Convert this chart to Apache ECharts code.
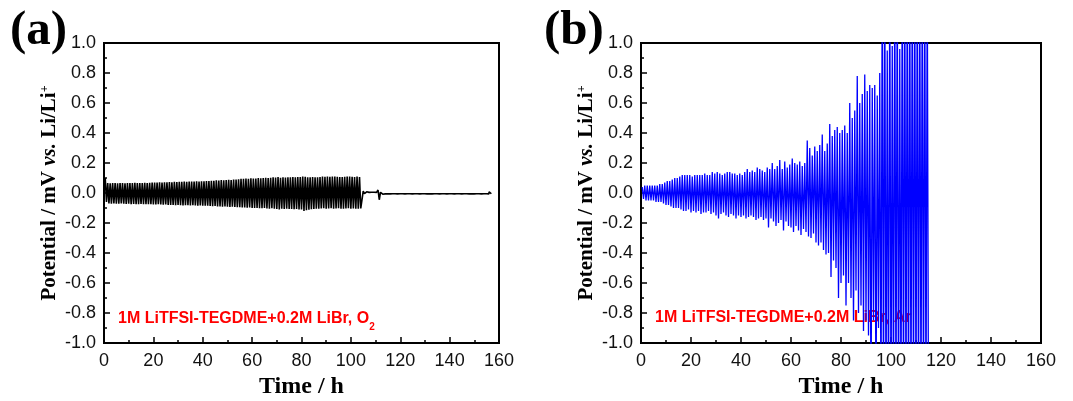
<!DOCTYPE html>
<html>
<head>
<meta charset="utf-8">
<script src="https://cdn.jsdelivr.net/npm/echarts@6/dist/echarts.min.js"></script>
<style>html,body{margin:0;padding:0;background:#fff}#c{width:1073px;height:401px}</style>
</head>
<body>
<div id="c"></div>
<script>
// ---- data, potential in mV, one value per 1 h cycle ----
var cyclePeriod = 1;        // h per charge/discharge cycle (estimated)
var leftStart = 0.5;        // h
var leftUp = [0.10,
  0.066,0.065,0.067,0.066,0.065,0.066,0.067,0.065,0.066,0.067,0.066,0.068,0.067,0.066,0.067,0.068,0.067,0.068,0.069,
  0.069,0.070,0.071,0.069,0.072,0.071,0.073,0.072,0.074,0.073,0.075,0.074,0.076,0.075,0.076,0.077,0.076,0.078,0.077,0.078,
  0.078,0.080,0.079,0.082,0.081,0.084,0.083,0.086,0.085,0.087,0.088,0.087,0.089,0.090,0.091,
  0.094,0.095,0.097,0.095,0.098,0.097,0.096,0.099,0.098,0.100,0.101,0.099,0.102,0.104,0.103,0.106,0.102,0.104,0.103,0.105,0.104,0.106,0.105,0.107,0.106,
  0.110,0.108,0.105,0.104,0.106,0.105,0.104,0.107,0.110,0.108,0.109,0.108,0.110,0.109,0.108,0.107,0.106,0.108,0.109,0.110,0.108,0.107,0.109,0.106];
var leftLow = [-0.06,
  -0.070,-0.071,-0.070,-0.072,-0.071,-0.070,-0.072,-0.073,-0.072,-0.074,-0.073,-0.075,-0.074,-0.073,-0.074,-0.075,-0.074,-0.075,-0.076,
  -0.076,-0.075,-0.077,-0.078,-0.077,-0.079,-0.080,-0.079,-0.081,-0.080,-0.082,-0.083,-0.082,-0.081,-0.083,-0.082,-0.083,-0.084,-0.083,-0.084,
  -0.084,-0.085,-0.086,-0.088,-0.087,-0.089,-0.090,-0.091,-0.090,-0.092,-0.093,-0.092,-0.093,-0.094,-0.094,
  -0.096,-0.097,-0.098,-0.097,-0.099,-0.100,-0.099,-0.101,-0.102,-0.100,-0.103,-0.104,-0.102,-0.105,-0.107,-0.110,-0.104,-0.106,-0.105,-0.107,-0.106,-0.108,-0.107,-0.109,-0.110,
  -0.120,-0.115,-0.112,-0.108,-0.106,-0.104,-0.105,-0.103,-0.102,-0.104,-0.103,-0.102,-0.104,-0.103,-0.102,-0.104,-0.105,-0.103,-0.102,-0.104,-0.103,-0.105,-0.104,-0.103];
var tailStart = 105;        // h
var tailUp = [0.012,0.008,0.004,0.005,0.005,0.004,0.020,0.005,0.004,0.005,
  0.005,0.004,0.005,0.005,0.004,0.005,0.005,0.005,0.004,0.005,
  0.005,0.004,0.005,0.005,0.004,0.005,0.005,0.005,0.004,0.005,
  0.005,0.004,0.005,0.005,0.004,0.005,0.005,0.005,0.004,0.005,
  0.005,0.004,0.005,0.005,0.004,0.005,0.005,0.005,0.004,0.006,0.005,0.008];
var tailLow = [-0.004,-0.004,-0.005,-0.006,-0.005,-0.006,-0.045,-0.008,-0.006,-0.005,
  -0.006,-0.005,-0.005,-0.006,-0.005,-0.005,-0.006,-0.005,-0.005,-0.006,
  -0.005,-0.005,-0.006,-0.005,-0.005,-0.006,-0.005,-0.006,-0.005,-0.005,
  -0.006,-0.005,-0.005,-0.006,-0.005,-0.005,-0.006,-0.005,-0.005,-0.006,
  -0.005,-0.005,-0.006,-0.005,-0.006,-0.005,-0.005,-0.006,-0.005,-0.005,-0.006,-0.005];

var rightStart = 0.5;
var rightUp = [0.04,0.05,0.05,0.05,0.05,0.05,0.05,0.06,0.06,0.07,
  0.08,0.08,0.09,0.10,0.10,0.11,0.12,0.12,0.12,0.12,
  0.11,0.12,0.12,0.12,0.12,0.13,0.12,0.12,0.14,0.13,
  0.14,0.13,0.12,0.13,0.14,0.14,0.13,0.13,0.12,0.13,
  0.12,0.14,0.16,0.14,0.15,0.14,0.17,0.16,0.15,0.14,
  0.17,0.16,0.20,0.16,0.18,0.22,0.16,0.21,0.17,0.19,
  0.23,0.20,0.19,0.21,0.18,0.20,0.35,0.30,0.25,0.31,
  0.28,0.32,0.39,0.28,0.33,0.46,0.38,0.42,0.44,0.40,
  0.42,0.45,0.40,0.60,0.50,0.55,0.78,0.60,0.66,0.79,
  0.68,0.72,0.70,0.72,0.65,0.80,1.5,1.5,0.95,1.5,
  0.98,1.5,1.5,0.96,1.5,1.5,1.5,1.5,1.5,1.5,
  1.5,1.5,1.5,1.5,1.5];
var rightLow = [-0.04,-0.05,-0.05,-0.05,-0.05,-0.06,-0.06,-0.06,-0.07,-0.08,
  -0.08,-0.09,-0.10,-0.10,-0.10,-0.11,-0.12,-0.12,-0.11,-0.13,
  -0.12,-0.13,-0.12,-0.14,-0.13,-0.13,-0.12,-0.14,-0.13,-0.15,
  -0.17,-0.14,-0.13,-0.15,-0.16,-0.14,-0.15,-0.17,-0.15,-0.16,
  -0.15,-0.17,-0.16,-0.15,-0.16,-0.18,-0.17,-0.16,-0.18,-0.17,
  -0.23,-0.17,-0.19,-0.22,-0.20,-0.18,-0.25,-0.19,-0.22,-0.23,
  -0.26,-0.22,-0.25,-0.28,-0.24,-0.26,-0.29,-0.30,-0.27,-0.33,
  -0.35,-0.33,-0.38,-0.41,-0.40,-0.56,-0.45,-0.50,-0.70,-0.60,
  -0.55,-0.75,-0.60,-0.70,-0.85,-0.65,-0.80,-0.75,-0.92,-0.85,
  -0.95,-1.5,-0.85,-1.5,-0.90,-1.5,-1.5,-1.5,-1.5,-1.5,
  -1.5,-1.5,-1.5,-1.5,-1.5,-1.5,-1.5,-1.5,-1.5,-1.5,
  -1.5,-1.5,-1.5,-1.5,-1.5];

var xTicks = {min: 0, max: 160, interval: 20};
var yTicks = {min: -1, max: 1, interval: 0.2};

// each cycle: hold at the upper value for half a period, then at the lower value
function cycles(start, up, low, out) {
  for (var k = 0; k < up.length; k++) {
    var t = start + k * cyclePeriod, h = cyclePeriod / 2;
    out.push([t, up[k]]);
    out.push([t + h * 0.8, up[k]]);
    out.push([t + h, low[k]]);
    out.push([t + h * 1.8, low[k]]);
  }
  return out;
}
var leftData = cycles(tailStart, tailUp, tailLow, cycles(leftStart, leftUp, leftLow, []));
var rightData = cycles(rightStart, rightUp, rightLow, []);

var SERIF = '"Liberation Serif","Times New Roman",serif';
var SANS = '"Liberation Sans",Arial,sans-serif';

function xAxis(i) {
  return {
    gridIndex: i, type: 'value', min: xTicks.min, max: xTicks.max, interval: xTicks.interval,
    name: 'Time / h', nameLocation: 'middle', nameGap: 32,
    nameTextStyle: {fontFamily: SERIF, fontWeight: 'bold', fontSize: 24, color: '#000'},
    axisLine: {onZero: false, lineStyle: {color: '#000', width: 2}},
    axisTick: {inside: true, length: 6, lineStyle: {color: '#000', width: 1.5}},
    minorTick: {show: true, splitNumber: 2, length: 3, lineStyle: {color: '#000', width: 1.5}},
    splitLine: {show: false},
    axisLabel: {fontFamily: SANS, fontSize: 18, color: '#111', margin: 9}
  };
}
function yAxis(i) {
  return {
    gridIndex: i, type: 'value', min: yTicks.min, max: yTicks.max, interval: yTicks.interval,
    name: 'Potential / mV {i|vs.} Li/Li{sup|+}', nameLocation: 'middle', nameRotate: 90, nameGap: 43,
    nameTextStyle: {fontFamily: SERIF, fontWeight: 'bold', fontSize: 21, color: '#000', lineHeight: 22,
      rich: {
        i: {fontFamily: SERIF, fontWeight: 'bold', fontStyle: 'italic', fontSize: 21, color: '#000', lineHeight: 22},
        sup: {fontFamily: SERIF, fontWeight: 'bold', fontSize: 12, color: '#000', verticalAlign: 'top', lineHeight: 22}
      }},
    axisLine: {onZero: false, lineStyle: {color: '#000', width: 2}},
    axisTick: {inside: true, length: 6, lineStyle: {color: '#000', width: 1.5}},
    minorTick: {show: true, splitNumber: 2, length: 3, lineStyle: {color: '#000', width: 1.5}},
    splitLine: {show: false},
    axisLabel: {fontFamily: SANS, fontSize: 18, color: '#111', margin: 8,
      formatter: function (v) { return (Math.abs(v) < 1e-9 ? 0 : v).toFixed(1); }}
  };
}
function label(x, y, gas, sub) {
  return {
    type: 'text', left: x, top: y, z: 0,
    style: {
      text: '1M LiTFSI-TEGDME+0.2M LiBr, ' + gas + (sub ? '{s|' + sub + '}' : ''),
      fontFamily: SANS, fontWeight: 'bold', fontSize: 16, fill: '#ff0000', lineHeight: 20,
      rich: {s: {fontFamily: SANS, fontWeight: 'bold', fontSize: 10, fill: '#ff0000', verticalAlign: 'bottom', lineHeight: 20, padding: [0,0,-3,0]}}
    }
  };
}

var chart = echarts.init(document.getElementById('c'), null, {renderer: 'canvas'});
chart.setOption({
  animation: false,
  backgroundColor: '#fff',
  grid: [
    {left: 104, top: 43, width: 395, height: 300, outerBoundsMode: 'none', containLabel: false,
      show: true, borderColor: '#000', borderWidth: 2, backgroundColor: 'transparent'},
    {left: 641, top: 43, width: 400, height: 300, outerBoundsMode: 'none', containLabel: false,
      show: true, borderColor: '#000', borderWidth: 2, backgroundColor: 'transparent'}
  ],
  xAxis: [xAxis(0), xAxis(1)],
  yAxis: [yAxis(0), yAxis(1)],
  graphic: [
    {type: 'text', left: 10, top: 7, style: {text: '(a)', fontFamily: SERIF, fontWeight: 'bold', fontSize: 49, fill: '#000'}},
    {type: 'text', left: 544, top: 7, style: {text: '(b)', fontFamily: SERIF, fontWeight: 'bold', fontSize: 49, fill: '#000'}},
    label(118, 309, 'O', '2'),
    label(655, 308, 'Ar', '')
  ],
  series: [
    {type: 'line', xAxisIndex: 0, yAxisIndex: 0, data: leftData, showSymbol: false, symbol: 'none',
      lineStyle: {color: '#000', width: 1.6}, clip: true, z: 3},
    {type: 'line', xAxisIndex: 1, yAxisIndex: 1, data: rightData, showSymbol: false, symbol: 'none',
      lineStyle: {color: '#0000ff', width: 1.3}, clip: true, z: 3}
  ]
});
</script>
</body>
</html>
